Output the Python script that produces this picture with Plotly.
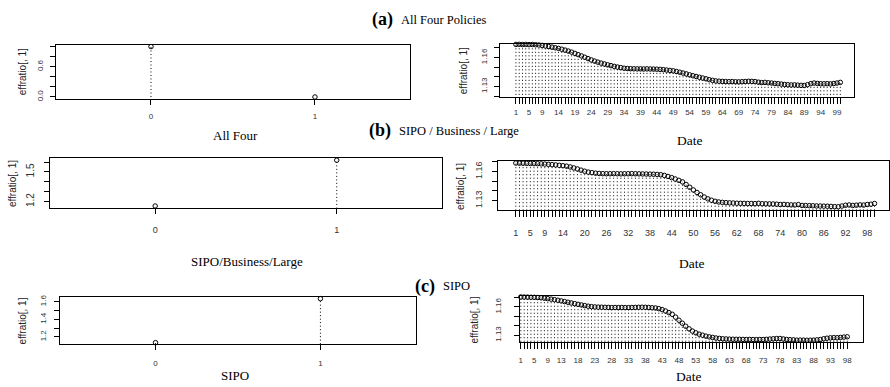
import plotly.graph_objects as go

W, H = 890, 387

# ---------------- data ----------------
group_levels = [0, 1]
all_four_group = [1.0, 0.0]
sipo_bus_large_group = [1.1555, 1.6185]
sipo_group = [1.135, 1.637]

all_four_daily = [
    1.1736, 1.1737, 1.1735, 1.1736, 1.1734, 1.1735, 1.1733, 1.1730, 1.1726, 1.1720,
    1.1714, 1.1708, 1.1701, 1.1695, 1.1686, 1.1677, 1.1667, 1.1656, 1.1643, 1.1630,
    1.1617, 1.1603, 1.1589, 1.1575, 1.1563, 1.1552, 1.1542, 1.1533, 1.1524, 1.1516,
    1.1508, 1.1501, 1.1495, 1.1489, 1.1486, 1.1484, 1.1483, 1.1482, 1.1482, 1.1481,
    1.1482, 1.1481, 1.1480, 1.1479, 1.1477, 1.1474, 1.1470, 1.1466, 1.1462, 1.1455,
    1.1447, 1.1439, 1.1430, 1.1420, 1.1411, 1.1403, 1.1395, 1.1387, 1.1379, 1.1370,
    1.1363, 1.1357, 1.1354, 1.1352, 1.1350, 1.1349, 1.1350, 1.1348, 1.1347, 1.1349,
    1.1351, 1.1353, 1.1352, 1.1350, 1.1344, 1.1340, 1.1342, 1.1338, 1.1335, 1.1331,
    1.1328, 1.1324, 1.1320, 1.1317, 1.1315, 1.1316, 1.1313, 1.1311, 1.1310, 1.1318,
    1.1329, 1.1335, 1.1331, 1.1328, 1.1327, 1.1329, 1.1326, 1.1330, 1.1335, 1.1342,
]

sipo_bus_large_daily = [
    1.1687, 1.1686, 1.1685, 1.1684, 1.1683, 1.1682, 1.1681, 1.1679, 1.1677, 1.1674,
    1.1671, 1.1668, 1.1664, 1.1660, 1.1655, 1.1647, 1.1637, 1.1626, 1.1614, 1.1603,
    1.1594, 1.1588, 1.1583, 1.1580, 1.1578, 1.1577, 1.1577, 1.1578, 1.1577, 1.1576,
    1.1577, 1.1577, 1.1578, 1.1577, 1.1576, 1.1575, 1.1574, 1.1573, 1.1572, 1.1570,
    1.1567, 1.1560, 1.1549, 1.1537, 1.1523, 1.1509, 1.1493, 1.1466, 1.1438, 1.1410,
    1.1384, 1.1360, 1.1337, 1.1318, 1.1304, 1.1293, 1.1286, 1.1282, 1.1279, 1.1277,
    1.1275, 1.1273, 1.1272, 1.1271, 1.1270, 1.1270, 1.1269, 1.1272, 1.1268, 1.1267,
    1.1266, 1.1265, 1.1263, 1.1260, 1.1261, 1.1258, 1.1256, 1.1255, 1.1259, 1.1250,
    1.1249, 1.1248, 1.1247, 1.1245, 1.1244, 1.1243, 1.1242, 1.1240, 1.1238, 1.1237,
    1.1244, 1.1252, 1.1255, 1.1250, 1.1253, 1.1256, 1.1254, 1.1260, 1.1263, 1.1270,
]

sipo_daily = [
    1.1706, 1.1705, 1.1704, 1.1703, 1.1702, 1.1700, 1.1697, 1.1693, 1.1688, 1.1683,
    1.1677, 1.1671, 1.1664, 1.1657, 1.1650, 1.1642, 1.1635, 1.1628, 1.1621, 1.1614,
    1.1608, 1.1603, 1.1600, 1.1598, 1.1597, 1.1596, 1.1595, 1.1593, 1.1594, 1.1593,
    1.1594, 1.1593, 1.1593, 1.1594, 1.1595, 1.1596, 1.1597, 1.1596, 1.1594, 1.1591,
    1.1589, 1.1582, 1.1572, 1.1557, 1.1540, 1.1522, 1.1492, 1.1459, 1.1427, 1.1395,
    1.1367, 1.1344, 1.1325, 1.1311, 1.1300, 1.1290, 1.1282, 1.1276, 1.1270, 1.1266,
    1.1262, 1.1260, 1.1258, 1.1257, 1.1256, 1.1256, 1.1255, 1.1254, 1.1255, 1.1254,
    1.1253, 1.1254, 1.1254, 1.1256, 1.1259, 1.1262, 1.1264, 1.1265, 1.1260, 1.1255,
    1.1252, 1.1250, 1.1247, 1.1248, 1.1247, 1.1246, 1.1247, 1.1247, 1.1250, 1.1254,
    1.1262, 1.1268, 1.1272, 1.1274, 1.1273, 1.1276, 1.1280, 1.1283,
]

all_four_date_ticks = [1, 5, 9, 14, 19, 24, 29, 34, 39, 44, 49, 54, 59, 64, 69, 74,
                       79, 84, 89, 94, 99]
sipo_bus_large_date_ticks = [1, 5, 9, 14, 20, 26, 32, 38, 44, 50, 56, 62, 68, 74, 80,
                             86, 92, 98]
sipo_date_ticks = [1, 5, 9, 13, 18, 23, 28, 33, 38, 43, 48, 53, 58, 63, 68, 73, 78, 83,
                   88, 93, 98]

all_four_group_yticks = [0.0, 0.2, 0.4, 0.6, 0.8, 1.0]
all_four_group_ylabels = ["0.0", "", "", "0.6", "", ""]
sipo_bus_large_group_yticks = [1.2, 1.3, 1.4, 1.5, 1.6]
sipo_bus_large_group_ylabels = ["1.2", "", "", "1.5", ""]
sipo_group_yticks = [1.2, 1.3, 1.4, 1.5, 1.6]
sipo_group_ylabels = ["1.2", "", "1.4", "", "1.6"]
daily_yticks = [1.12, 1.13, 1.14, 1.15, 1.16, 1.17]
daily_ylabels = ["", "1.13", "", "", "1.16", ""]

panel_titles = [("(a)", "All Four Policies"),
                ("(b)", "SIPO / Business / Large"),
                ("(c)", "SIPO")]
group_axis_titles = ["All Four", "SIPO/Business/Large", "SIPO"]

SANS = "Liberation Sans"
SERIF = "Liberation Serif"
TICK_COLOR = "#333333"


def px_x(p):
    return p / W


def px_y(p):
    return 1 - p / H


fig = go.Figure()


def add_h_panel(k, xs, ys, marker_size=4.5):
    """Histogram-like ('type h') panel: dotted stems from 0 up to each value, open circles on top."""
    sx, sy = [], []
    for xv, yv in zip(xs, ys):
        sx += [xv, xv, None]
        sy += [0, yv, None]
    ax = "" if k == 1 else str(k)
    fig.add_trace(go.Scatter(x=sx, y=sy, mode="lines",
                             line=dict(color="black", width=1, dash="1px,2.5px"),
                             xaxis="x" + ax, yaxis="y" + ax, hoverinfo="skip",
                             showlegend=False))
    fig.add_trace(go.Scatter(x=xs, y=ys, mode="markers",
                             marker=dict(symbol="circle-open", size=marker_size,
                                         color="black", line=dict(width=1)),
                             xaxis="x" + ax, yaxis="y" + ax, showlegend=False,
                             cliponaxis=False))


def axis_style(domain, rng, tickvals, ticktext, font_size, standoff, ticklen=5,
               tickangle=0, minor_vals=None, anchor=None):
    d = dict(domain=domain, range=rng, tickmode="array", tickvals=tickvals,
             ticktext=ticktext, ticks="outside", ticklen=ticklen, tickwidth=1,
             tickcolor="black", showline=True, mirror=True, linecolor="black",
             linewidth=1, showgrid=False, zeroline=False, tickangle=tickangle,
             tickfont=dict(family=SANS, size=font_size, color=TICK_COLOR),
             ticklabelstandoff=standoff, anchor=anchor, fixedrange=True)
    if minor_vals is not None:
        d["minor"] = dict(tickmode="array", tickvals=minor_vals, ticks="outside",
                          ticklen=ticklen + 1, tickwidth=1.2, tickcolor="black")
    return d


# panel geometry in pixels: (left, right, top, bottom)
panels = [
    # group panels (left column)
    dict(k=1, box=(55, 410, 43, 98), xr=[-0.58, 1.58], yr=[-0.04, 1.04],
         x=group_levels, y=all_four_group, xt=group_levels, xl=["0", "1"],
         yt=all_four_group_yticks, yl=all_four_group_ylabels, xfs=8, yfs=8,
         xso=4, yso=4),
    dict(k=3, box=(49, 442, 158, 208), xr=[-0.58, 1.58], yr=[1.137, 1.637],
         x=group_levels, y=sipo_bus_large_group, xt=group_levels, xl=["0", "1"],
         yt=sipo_bus_large_group_yticks, yl=sipo_bus_large_group_ylabels, xfs=9,
         yfs=10, xso=8, yso=6),
    dict(k=5, box=(59, 416, 298, 346), xr=[-0.58, 1.58], yr=[1.115, 1.657],
         x=group_levels, y=sipo_group, xt=group_levels, xl=["0", "1"],
         yt=sipo_group_yticks, yl=sipo_group_ylabels, xfs=8, yfs=8, xso=6, yso=5),
    # daily panels (right column)
    dict(k=2, box=(500, 855, 42, 96), xr=[-3.9, 104.2], yr=[1.119, 1.1745],
         x=list(range(1, len(all_four_daily) + 1)), y=all_four_daily,
         xt=all_four_date_ticks, xl=[str(v) for v in all_four_date_ticks],
         yt=daily_yticks, yl=daily_ylabels, xfs=8, yfs=8, xso=2, yso=4),
    dict(k=4, box=(498, 890, 161, 210), xr=[-3.96, 104.0], yr=[1.1205, 1.1705],
         x=list(range(1, len(sipo_bus_large_daily) + 1)), y=sipo_bus_large_daily,
         xt=sipo_bus_large_date_ticks,
         xl=[str(v) for v in sipo_bus_large_date_ticks],
         yt=daily_yticks, yl=daily_ylabels, xfs=9, yfs=9, xso=9, yso=6),
    dict(k=6, box=(520, 864, 297, 344), xr=[0.7, 102.7], yr=[1.1223, 1.1717],
         x=list(range(1, len(sipo_daily) + 1)), y=sipo_daily,
         xt=sipo_date_ticks, xl=[str(v) for v in sipo_date_ticks],
         yt=daily_yticks, yl=daily_ylabels, xfs=8, yfs=8, xso=5, yso=10),
]

layout_axes = {}
for p in panels:
    k = p["k"]
    l, r, t, b = p["box"]
    add_h_panel(k, p["x"], p["y"])
    xname = "xaxis" if k == 1 else f"xaxis{k}"
    yname = "yaxis" if k == 1 else f"yaxis{k}"
    anc_x = "y" if k == 1 else f"y{k}"
    anc_y = "x" if k == 1 else f"x{k}"
    minor = p["x"] if len(p["x"]) > 2 else None
    layout_axes[xname] = axis_style([px_x(l), min(px_x(r), 1.0)], p["xr"], p["xt"], p["xl"],
                                    p["xfs"], p["xso"], minor_vals=minor, anchor=anc_x)
    layout_axes[yname] = axis_style([px_y(b), px_y(t)], p["yr"], p["yt"], p["yl"],
                                    p["yfs"], p["yso"], tickangle=-90, anchor=anc_y)

annotations = []


def text(x, y, s, size, family=SERIF, angle=0, xanchor="center", color="black"):
    annotations.append(dict(x=px_x(x), y=px_y(y), xref="paper", yref="paper",
                            text=s, showarrow=False, textangle=angle,
                            xanchor=xanchor, yanchor="middle",
                            font=dict(family=family, size=size, color=color)))


# panel headings
title_pos = [(395, 18), (393, 130), (437, 287)]
for (tag, name), (x, y) in zip(panel_titles, title_pos):
    text(x, y, f"<b>{tag}</b>", 18, xanchor="right")
    text(x + 4, y, name, 12.5, xanchor="left")

# x-axis titles
text(235, 135, group_axis_titles[0], 13)
text(247, 262, group_axis_titles[1], 13)
text(235, 377, group_axis_titles[2], 13)
text(690, 140, "Date", 13.5)
text(692, 264, "Date", 13.5)
text(689, 378, "Date", 13.5)

# y-axis titles
for x, y in [(21, 70), (11, 183), (22, 322), (463, 69), (460, 186), (475, 321)]:
    text(x, y, "effratio[, 1]", 10, family=SANS, angle=-90, color="#222222")

fig.update_layout(width=W, height=H, margin=dict(l=0, r=0, t=0, b=0),
                  paper_bgcolor="white", plot_bgcolor="white",
                  annotations=annotations, showlegend=False, **layout_axes)

fig.write_html("out.html", config={"displayModeBar": False})
